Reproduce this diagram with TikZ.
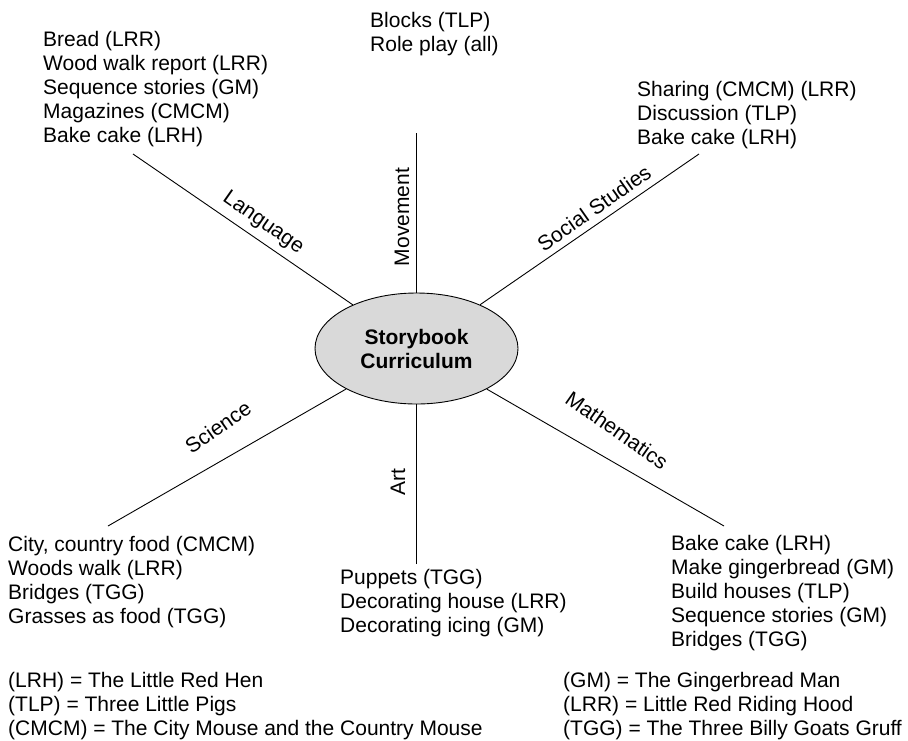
\documentclass[tikz,border=0pt]{standalone}
\usepackage{fontspec}
\setmainfont{Liberation Sans}
\usetikzlibrary{shapes.geometric}
\begin{document}
\begin{tikzpicture}[x=1pt,y=-1pt,
  every node/.style={font=\fontsize{21}{23.8}\selectfont, inner sep=0pt},
  block/.style={anchor=base west, align=left},
  spoke/.style={line width=0.9pt, black},
  branchlabel/.style={anchor=center}]
\useasboundingbox (0,0) rectangle (908,740);
% centre
\node[ellipse, draw, line width=0.9pt, fill=black!15, minimum width=203pt, minimum height=111pt, align=center,
      font=\fontsize{21}{24}\selectfont\bfseries] (ell) at (416.5,348.5) {Storybook\\Curriculum};
% spoke ends
\coordinate (langEnd) at (133,154);
\coordinate (movEnd) at (416.5,133);
\coordinate (socEnd) at (699,154);
\coordinate (sciEnd) at (108,526);
\coordinate (artEnd) at (416.5,564);
\coordinate (mathEnd) at (724,526);
\draw[spoke] (langEnd) -- (ell);
\draw[spoke] (movEnd) -- (ell.north);
\draw[spoke] (socEnd) -- (ell);
\draw[spoke] (sciEnd) -- (ell);
\draw[spoke] (artEnd) -- (ell.south);
\draw[spoke] (mathEnd) -- (ell);
% spoke labels
\node[branchlabel, rotate=-35] (lLang) at (263,223) {Language};
\node[branchlabel, rotate=90] (lMov) at (402,217) {Movement};
\node[branchlabel, rotate=35] (lSoc) at (594,208) {Social Studies};
\node[branchlabel, rotate=35] (lSci) at (218,427) {Science};
\node[branchlabel, rotate=90] (lArt) at (398,482) {Art};
\node[branchlabel, rotate=-35] (lMath) at (617,430) {Mathematics};
% activity blocks (anchored at the baseline of their last line)
\node[block] (bLang) at (43,142) {Bread (LRR)\\Wood walk report (LRR)\\Sequence stories (GM)\\Magazines (CMCM)\\Bake cake (LRH)};
\node[block] (bMov) at (370,51) {Blocks (TLP)\\Role play (all)};
\node[block] (bSoc) at (637,144) {Sharing (CMCM) (LRR)\\Discussion (TLP)\\Bake cake (LRH)};
\node[block] (bSci) at (8,623) {City, country food (CMCM)\\Woods walk (LRR)\\Bridges (TGG)\\Grasses as food (TGG)};
\node[block] (bArt) at (340,632) {Puppets (TGG)\\Decorating house (LRR)\\Decorating icing (GM)};
\node[block] (bMath) at (671,646) {Bake cake (LRH)\\Make gingerbread (GM)\\Build houses (TLP)\\Sequence stories (GM)\\Bridges (TGG)};
% legend
\node[block] (legL) at (8,735) {(LRH) = The Little Red Hen\\(TLP) = Three Little Pigs\\(CMCM) = The City Mouse and the Country Mouse};
\node[block] (legR) at (563,735) {(GM) = The Gingerbread Man\\(LRR) = Little Red Riding Hood\\(TGG) = The Three Billy Goats Gruff};
\end{tikzpicture}
\end{document}
